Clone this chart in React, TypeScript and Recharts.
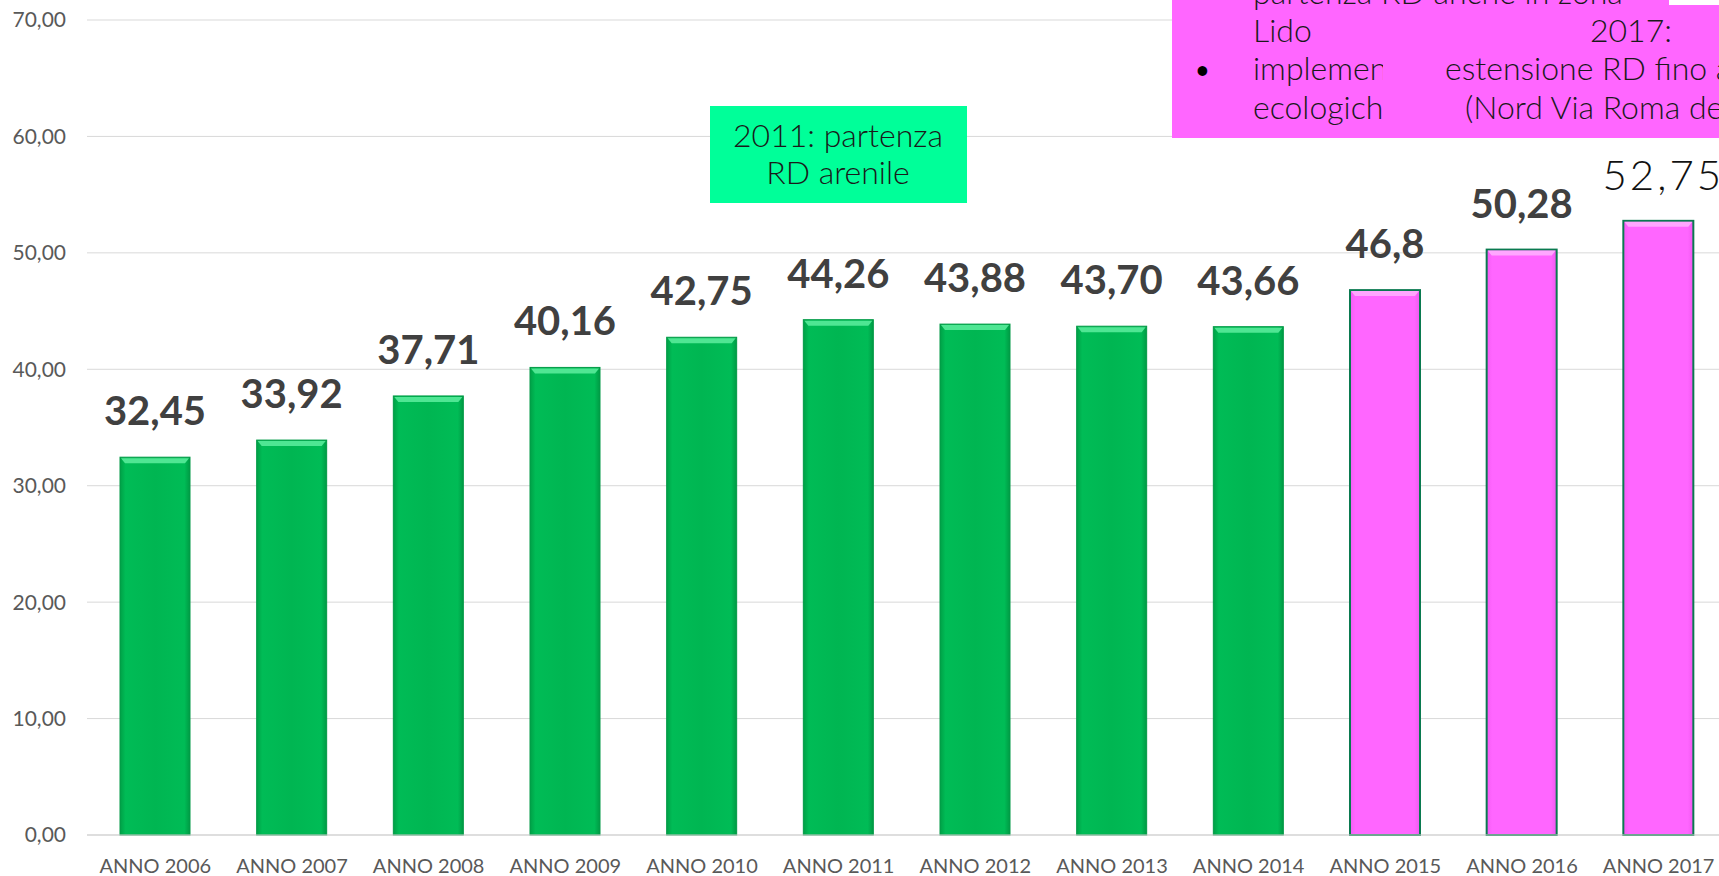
import { BarChart, Bar, XAxis, YAxis, CartesianGrid, LabelList } from "recharts"

// % raccolta differenziata per anno
const years = [
  "ANNO 2006", "ANNO 2007", "ANNO 2008", "ANNO 2009", "ANNO 2010", "ANNO 2011",
  "ANNO 2012", "ANNO 2013", "ANNO 2014", "ANNO 2015", "ANNO 2016", "ANNO 2017",
]
const rdPercent = [32.45, 33.92, 37.71, 40.16, 42.75, 44.26, 43.88, 43.7, 43.66, 46.8, 50.28, 52.75]
const valueLabels = ["32,45", "33,92", "37,71", "40,16", "42,75", "44,26", "43,88", "43,70", "43,66", "46,8", "50,28", "52,75"]
const yTicks = [0, 10, 20, 30, 40, 50, 60, 70]
// from this year on bars are drawn in magenta
const pinkFrom = "ANNO 2015"

const FONT = "Lato, 'Open Sans', sans-serif"

const data = years.map((label, i) => ({
  label,
  value: rdPercent[i],
  text: valueLabels[i],
  pink: label >= pinkFrom,
}))

function BevelBar(props: any) {
  const { x, y, width, height, payload } = props
  if (!height || height <= 0) return null
  const pink = payload.pink
  return (
    <g>
      <rect
        x={x}
        y={y}
        width={width}
        height={height}
        fill={pink ? "url(#gPink)" : "url(#gGreen)"}
        stroke={pink ? "#0A7A50" : "#029A46"}
        strokeWidth={pink ? 2 : 1}
      />
      <polygon
        points={`${x + 1},${y + 1} ${x + width - 1},${y + 1} ${x + width - 5},${y + 6} ${x + 5},${y + 6}`}
        fill={pink ? "#FFA6FF" : "#4FE693"}
      />
    </g>
  )
}

function ValueLabel(props: any) {
  const { x, y, width, value, index } = props
  const cx = x + width / 2
  if (index === years.length - 1) {
    return (
      <text x={cx + 5} y={y - 31} textAnchor="middle" fontFamily={FONT} fontWeight={300} fontSize={42} letterSpacing={3} fill="#111">
        {value}
      </text>
    )
  }
  return (
    <text x={cx} y={y - 32} textAnchor="middle" fontFamily={FONT} fontWeight={700} fontSize={40} fill="#404040">
      {value}
    </text>
  )
}

function YearTick(props: any) {
  const { x, y, payload } = props
  return (
    <text x={x} y={y + 30} textAnchor="middle" dominantBaseline="central" fontFamily={FONT} fontSize={20} fill="#595959">
      {payload.value}
    </text>
  )
}

const noteFont = { fontFamily: FONT, fontWeight: 300, fontSize: 32, fill: "#1a1a1a" }

export default function App() {
  return (
    <div style={{ position: "absolute", left: 0, top: 0, width: 1719, height: 876, overflow: "hidden", background: "#fff" }}>
      <BarChart width={1740} height={876} data={data} margin={{ top: 20, right: 13, bottom: 0, left: 0 }}>
        <defs>
          <linearGradient id="gGreen" x1="0" y1="0" x2="1" y2="0">
            <stop offset="0%" stopColor="#00A046" />
            <stop offset="8%" stopColor="#00BC56" />
            <stop offset="50%" stopColor="#00B652" />
            <stop offset="92%" stopColor="#00BC56" />
            <stop offset="100%" stopColor="#009A44" />
          </linearGradient>
          <linearGradient id="gPink" x1="0" y1="0" x2="1" y2="0">
            <stop offset="0%" stopColor="#F45CF4" />
            <stop offset="8%" stopColor="#FF66FF" />
            <stop offset="92%" stopColor="#FF66FF" />
            <stop offset="100%" stopColor="#F058F0" />
          </linearGradient>
        </defs>
        <CartesianGrid vertical={false} stroke="#D9D9D9" />
        <XAxis
          dataKey="label"
          height={41}
          interval={0}
          tickSize={0}
          tickMargin={0}
          tickLine={false}
          axisLine={{ stroke: "#D0D0D0" }}
          tick={<YearTick />}
        />
        <YAxis
          width={87}
          domain={[0, 70]}
          ticks={yTicks}
          tickSize={0}
          tickMargin={21}
          tickLine={false}
          axisLine={false}
          tickFormatter={(v: number) => v.toFixed(2).replace(".", ",")}
          tick={{ fontFamily: FONT, fontSize: 21, fill: "#595959" }}
        />
        <Bar dataKey="value" barSize={70} shape={<BevelBar />} isAnimationActive={false}>
          <LabelList dataKey="text" content={<ValueLabel />} />
        </Bar>
      </BarChart>

      <svg width={1719} height={876} style={{ position: "absolute", left: 0, top: 0, pointerEvents: "none" }}>
        <defs>
          <clipPath id="leftCol">
            <rect x={1172} y={10} width={211} height={130} />
          </clipPath>
        </defs>
        {/* 2011 note */}
        <rect x={710} y={106} width={257} height={97} fill="#00FF99" />
        <text x={838} y={147} textAnchor="middle" {...noteFont}>2011: partenza</text>
        <text x={838} y={184} textAnchor="middle" {...noteFont}>RD arenile</text>

        {/* 2015-2017 note, overflowing the slide */}
        <rect x={1172} y={0} width={560} height={138} fill="#FF66FF" />
        <rect x={1669} y={0} width={60} height={5} fill="#fff" />
        <text x={1253} y={4} {...noteFont}>partenza RD anche in zona</text>
        <g clipPath="url(#leftCol)">
          <text x={1253} y={42} {...noteFont}>Lido</text>
          <text x={1253} y={80} {...noteFont}>implementazione isole</text>
          <text x={1253} y={119} {...noteFont}>ecologiche</text>
        </g>
        <text x={1196} y={78} {...noteFont} fontWeight={700} fontSize={22} fill="#000">•</text>
        <text x={1590} y={42} {...noteFont}>2017:</text>
        <text x={1445} y={80} {...noteFont}>estensione RD fino a</text>
        <text x={1465} y={119} {...noteFont}>(Nord Via Roma del</text>
      </svg>
    </div>
  )
}
